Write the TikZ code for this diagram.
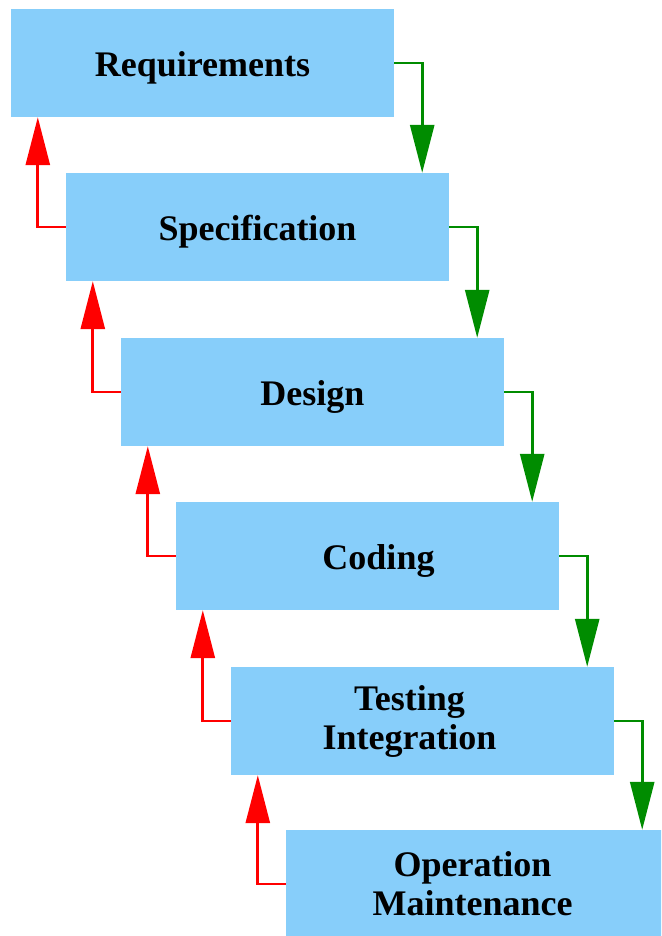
\documentclass[tikz,border=0pt]{standalone}
\usepackage{fontspec}
\setmainfont{Liberation Serif}
\usetikzlibrary{arrows.meta}
\definecolor{boxblue}{RGB}{135,206,250}
\definecolor{fwdgreen}{RGB}{0,140,0}

\begin{document}
\begin{tikzpicture}[x=1pt, y=-1pt,
    box/.style = {fill=boxblue, minimum width=383pt, minimum height=108pt, inner sep=0pt,
                  align=center, font=\bfseries\fontsize{36}{39}\selectfont,
                  execute at begin node={\rule{0pt}{35pt}}},
    twoline/.style = {execute at begin node={\rule{0pt}{40pt}}},
    fwd/.style = {draw=fwdgreen, line width=2.8pt, -{Triangle[length=48pt, width=24pt]}},
    back/.style = {draw=red, line width=2.8pt, -{Triangle[length=48pt, width=24pt]}}]

      \clip (0,0) rectangle (661,936);

      \node[box] (req)  at (202.5,63)  {Requirements};
      \node[box] (spec) at (257.5,227) {Specification};
      \node[box] (des)  at (312.5,392) {Design};
      \node[box] (cod)  at (367.5,556) {\hspace*{22pt}Coding};
      \node[box, twoline] (test) at (422.5,721) {Testing\hspace*{26pt}\\Integration\hspace*{26pt}};
      \node[box, twoline] (op)   at (477.5,884) {Operation\hspace*{10pt}\\Maintenance\hspace*{10pt}};

      % going down
      \draw[fwd] (req.east)  -| ([xshift=-27pt]spec.north east);
      \draw[fwd] (spec.east) -| ([xshift=-27pt]des.north east);
      \draw[fwd] (des.east)  -| ([xshift=-27pt]cod.north east);
      \draw[fwd] (cod.east)  -| ([xshift=-27pt]test.north east);
      \draw[fwd] (test.east) -| ([xshift=-27pt]op.north east);

      % going back up
      \draw[back] (spec.west) -| ([xshift=27pt]req.south west);
      \draw[back] (des.west)  -| ([xshift=27pt]spec.south west);
      \draw[back] (cod.west)  -| ([xshift=27pt]des.south west);
      \draw[back] (test.west) -| ([xshift=27pt]cod.south west);
      \draw[back] (op.west)   -| ([xshift=27pt]test.south west);
\end{tikzpicture}
\end{document}
